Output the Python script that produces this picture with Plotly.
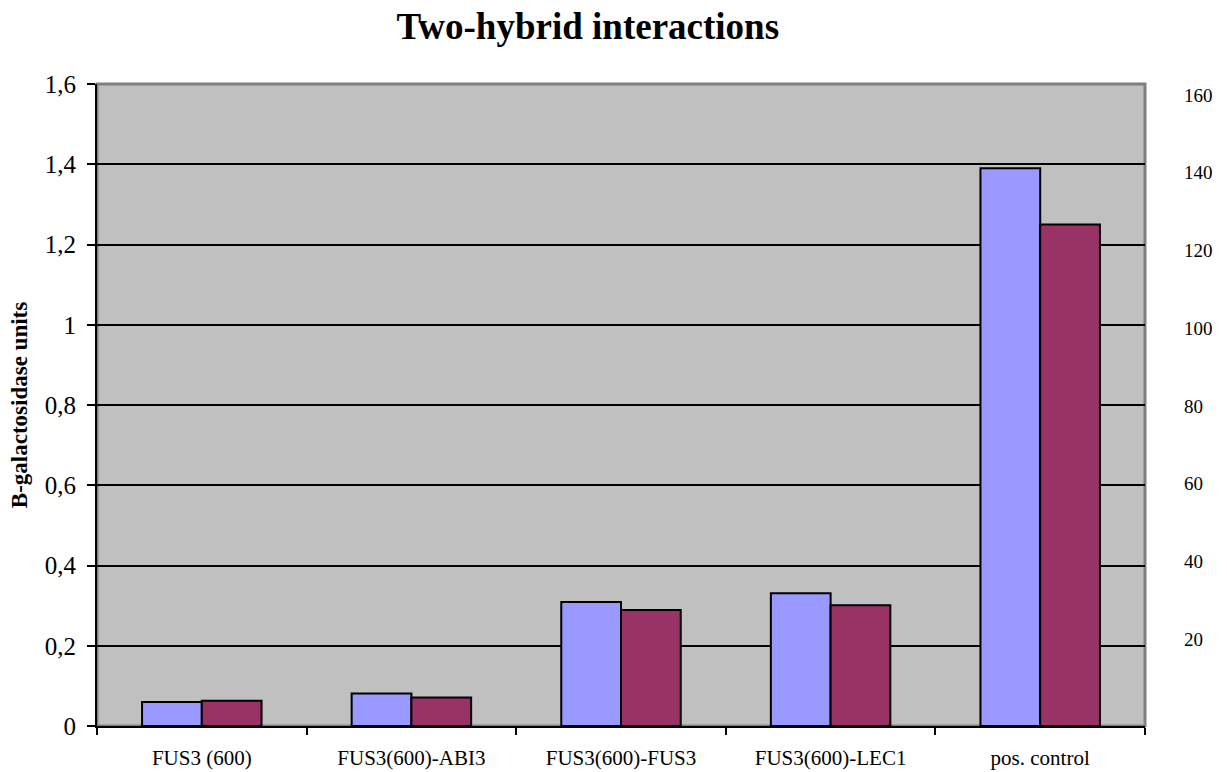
import plotly.graph_objects as go

categories = ["FUS3 (600)", "FUS3(600)-ABI3", "FUS3(600)-FUS3", "FUS3(600)-LEC1", "pos. control"]
series_a = [0.06, 0.081, 0.309, 0.331, 1.39]
series_b = [0.063, 0.071, 0.289, 0.301, 1.25]
left_ticks = [0, 0.2, 0.4, 0.6, 0.8, 1.0, 1.2, 1.4, 1.6]
left_labels = ["0", "0,2", "0,4", "0,6", "0,8", "1", "1,2", "1,4", "1,6"]
right_ticks = [20, 40, 60, 80, 100, 120, 140, 160]

serif = "Liberation Serif, Times New Roman, serif"

fig = go.Figure()
fig.add_trace(go.Bar(x=categories, y=series_a, marker=dict(color="#9999FF", line=dict(color="black", width=2)),
                     showlegend=False))
fig.add_trace(go.Bar(x=categories, y=series_b, marker=dict(color="#993366", line=dict(color="black", width=2)),
                     showlegend=False))
fig.add_trace(go.Scatter(x=categories, y=[None] * len(categories), yaxis="y2", showlegend=False,
                         hoverinfo="skip", mode="markers"))

fig.update_layout(
    width=1227, height=772,
    margin=dict(l=97, r=82, t=84, b=46, autoexpand=False),
    paper_bgcolor="white", plot_bgcolor="#C0C0C0",
    barmode="group", bargap=0.43, bargroupgap=0,
    title=dict(text="<b>Two-hybrid interactions</b>", x=0.479, xanchor="center", y=0.966, yanchor="middle",
               font=dict(family=serif, size=37, color="black")),
    font=dict(family=serif, color="black"),
    xaxis=dict(showline=True, linecolor="black", linewidth=2, ticks="outside", tickson="boundaries",
               ticklen=7, tickwidth=2, tickcolor="black", showgrid=False,
               tickfont=dict(family=serif, size=21), ticklabelstandoff=12),
    yaxis=dict(range=[0, 1.6], tickvals=left_ticks, ticktext=left_labels, showline=True, linecolor="black",
               linewidth=2, ticks="outside", ticklen=8, tickwidth=2, tickcolor="black",
               showgrid=True, gridcolor="black", gridwidth=2, zeroline=False,
               tickfont=dict(family=serif, size=25), ticklabelstandoff=6,
               title=dict(text="<b>B-galactosidase units</b>", font=dict(family=serif, size=23), standoff=11)),
    yaxis2=dict(overlaying="y", side="right", range=[-2.3, 162.8], tickvals=right_ticks,
                showline=False, ticks="", showgrid=False, zeroline=False,
                tickfont=dict(family=serif, size=19), ticklabelstandoff=38),
    shapes=[dict(type="rect", xref="x domain", yref="y domain", x0=0, x1=1, y0=0, y1=1,
                 line=dict(color="#808080", width=3), layer="below")],
)

fig.write_html("out.html", config={"displayModeBar": False},
               post_script="document.body.style.margin='0px';document.body.style.overflow='hidden';")
